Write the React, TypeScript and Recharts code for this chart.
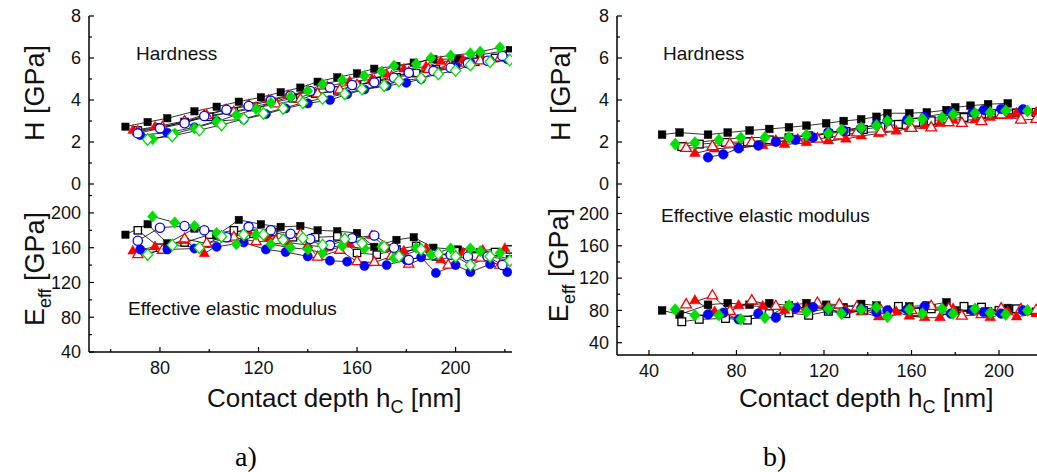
import React from 'react';
import { LineChart, Line, XAxis, YAxis } from 'recharts';

const SANS = '"Liberation Sans", Arial, Helvetica, sans-serif';
const SERIF = '"Liberation Serif", "Times New Roman", serif';

const BLACK = '#000000';
const BLUE = '#0000ff';
const RED = '#ff0000';
const GREEN = '#00e000';

// ---- panel a) : contact depth, hardness, effective modulus per sample ----
const aSqX = [66, 75, 83, 94, 103, 112, 121, 129, 137, 144, 152, 160, 167, 176, 183, 191, 201, 210, 222];
const aSqH = [2.73, 2.95, 3.13, 3.46, 3.68, 3.92, 4.13, 4.37, 4.59, 4.87, 5.08, 5.27, 5.49, 5.62, 5.78, 5.94, 5.95, 6.15, 6.38];
const aSqE = [175, 187, 165, 182, 174, 192, 187, 184, 185, 180, 179, 177, 161, 169, 172, 160, 158, 155, 147];

const aOsqX = [71, 80, 90, 100, 110, 118, 126, 134, 143, 152, 160, 168, 176, 184, 192, 200, 208, 216, 222];
const aOsqH = [2.55, 2.7, 2.95, 3.2, 3.45, 3.68, 3.88, 4.08, 4.3, 4.46, 4.7, 4.9, 5.08, 5.28, 5.46, 5.64, 5.82, 6.0, 6.12];
const aOsqE = [180, 160, 166, 175, 180, 176, 178, 172, 172, 173, 154, 152, 158, 162, 150, 156, 150, 155, 158];

const aCirX = [72, 83, 94, 103, 114, 123, 131, 140, 149, 156, 163, 172, 180, 186, 192, 200, 206, 214, 221];
const aCirH = [2.33, 2.44, 2.7, 3.0, 3.08, 3.33, 3.6, 3.84, 4.0, 4.27, 4.5, 4.67, 4.82, 5.0, 5.35, 5.59, 5.79, 5.87, 5.94];
const aCirE = [158, 158, 159, 161, 166, 158, 155, 150, 145, 144, 139, 140, 146, 149, 131, 140, 132, 141, 132];

const aOcirX = [71, 80, 90, 98, 107, 116, 125, 133, 141, 149, 158, 167, 175, 181, 191, 198, 205, 213, 219];
const aOcirH = [2.41, 2.65, 2.89, 3.24, 3.54, 3.71, 3.97, 4.2, 4.43, 4.59, 4.71, 4.84, 5.06, 5.3, 5.38, 5.54, 5.75, 5.87, 6.1];
const aOcirE = [168, 183, 185, 180, 172, 184, 180, 176, 170, 163, 171, 174, 160, 146, 152, 152, 150, 150, 140];

const aTriX = [69, 78, 90, 98, 107, 116, 124, 132, 140, 148, 157, 166, 172, 179, 188, 194, 203, 211, 220];
const aTriH = [2.55, 2.72, 3.0, 3.3, 3.55, 3.78, 4.0, 4.22, 4.45, 4.65, 4.87, 4.98, 5.22, 5.47, 5.59, 5.83, 5.9, 5.93, 6.05];
const aTriE = [156, 161, 168, 153, 170, 178, 171, 166, 163, 160, 164, 174, 160, 156, 159, 146, 154, 157, 159];

const aOtriX = [71, 81, 90, 99, 110, 119, 127, 137, 144, 153, 160, 167, 174, 181, 189, 197, 204, 210, 218];
const aOtriH = [2.49, 2.7, 2.97, 3.25, 3.42, 3.62, 3.81, 4.03, 4.29, 4.48, 4.71, 4.9, 5.1, 5.3, 5.45, 5.62, 5.75, 5.86, 6.0];
const aOtriE = [152, 157, 170, 165, 172, 167, 168, 175, 149, 157, 144, 143, 150, 141, 150, 140, 152, 148, 140];

const aDiaX = [77, 86, 94, 103, 111, 119, 125, 133, 140, 146, 154, 163, 170, 175, 184, 190, 198, 206, 210, 218];
const aDiaH = [2.14, 2.4, 2.65, 2.97, 3.29, 3.57, 3.87, 4.16, 4.43, 4.75, 4.95, 5.14, 5.35, 5.63, 5.72, 6.0, 6.12, 6.22, 6.3, 6.5];
const aDiaE = [196, 189, 185, 177, 164, 175, 164, 160, 158, 154, 162, 159, 161, 148, 160, 152, 159, 159, 156, 154];

const aOdiaX = [75, 85, 96, 105, 114, 122, 130, 138, 146, 155, 162, 171, 177, 186, 193, 200, 206, 214, 222];
const aOdiaH = [2.12, 2.29, 2.57, 2.81, 3.1, 3.36, 3.6, 3.87, 4.08, 4.29, 4.52, 4.68, 4.9, 5.03, 5.24, 5.4, 5.67, 5.82, 5.9];
const aOdiaE = [152, 163, 160, 173, 175, 175, 169, 171, 163, 170, 165, 161, 150, 158, 153, 150, 140, 150, 145];

// ---- panel b) ----
const bSqX = [46, 54, 67, 76, 86, 95, 104, 112, 121, 129, 137, 144, 149, 159, 167, 176, 180, 187, 195, 204];
const bSqH = [2.35, 2.45, 2.35, 2.45, 2.55, 2.62, 2.7, 2.78, 2.89, 3.0, 3.08, 3.2, 3.37, 3.37, 3.41, 3.52, 3.65, 3.73, 3.8, 3.84];
const bSqE = [80, 75, 87, 89, 87, 89, 86, 89, 87, 84, 88, 86, 77, 85, 86, 90, 80, 81, 79, 83];

const bOsqX = [55, 63, 75, 85, 95, 104, 113, 122, 130, 138, 146, 154, 162, 169, 176, 184, 192, 200, 208, 217];
const bOsqH = [1.78, 1.9, 1.98, 2.01, 2.1, 2.2, 2.3, 2.4, 2.5, 2.6, 2.73, 2.84, 2.94, 3.01, 3.1, 3.17, 3.33, 3.32, 3.38, 3.41];
const bOsqE = [66, 69, 70, 68, 76, 77, 74, 79, 76, 80, 74, 85, 78, 82, 80, 85, 84, 80, 82, 78];

const bCirX = [67, 74, 81, 90, 98, 107, 115, 122, 129, 137, 144, 149, 158, 166, 178, 188, 193, 201, 211];
const bCirH = [1.27, 1.41, 1.7, 1.83, 2.01, 2.1, 2.22, 2.46, 2.54, 2.65, 2.84, 3.0, 3.05, 3.2, 3.4, 3.41, 3.52, 3.57, 3.56];
const bCirE = [75, 77, 69, 76, 71, 83, 84, 81, 78, 82, 78, 80, 81, 85, 76, 80, 78, 76, 80];

const bTriX = [61, 70, 81, 92, 102, 112, 122, 130, 137, 145, 153, 159, 166, 173, 179, 189, 196, 204, 208, 217];
const bTriH = [1.46, 1.67, 1.75, 1.83, 1.88, 1.97, 2.05, 2.14, 2.29, 2.4, 2.52, 2.65, 2.78, 2.89, 3.05, 3.05, 3.17, 3.25, 3.37, 3.4];
const bTriE = [92, 78, 86, 85, 80, 82, 84, 80, 78, 72, 78, 73, 71, 71, 82, 79, 71, 78, 72, 76];

const bOtriX = [57, 69, 77, 87, 98, 108, 117, 127, 135, 146, 150, 160, 169, 177, 183, 192, 201, 210, 217];
const bOtriH = [1.7, 1.78, 1.9, 1.97, 2.02, 2.08, 2.14, 2.29, 2.44, 2.49, 2.65, 2.65, 2.68, 2.92, 2.89, 2.97, 3.29, 3.05, 3.08];
const bOtriE = [87, 98, 79, 92, 85, 82, 89, 87, 84, 80, 78, 80, 85, 82, 73, 75, 82, 81, 80];

const bDiaX = [52, 61, 72, 82, 93, 104, 112, 122, 128, 137, 144, 149, 159, 165, 174, 179, 189, 196, 203, 213];
const bDiaH = [1.9, 1.97, 2.1, 2.2, 2.22, 2.22, 2.33, 2.41, 2.57, 2.68, 2.78, 3.0, 3.01, 3.1, 3.17, 3.32, 3.37, 3.41, 3.49, 3.48];
const bDiaE = [81, 74, 74, 69, 71, 86, 78, 82, 76, 81, 84, 72, 81, 76, 82, 76, 82, 77, 75, 80];

// ---- axes ----
const X_TICKS_A = [60, 80, 100, 120, 140, 160, 180, 200, 220];
const X_TICKS_B = [40, 60, 80, 100, 120, 140, 160, 180, 200, 220];
const X_MAJOR = [40, 80, 120, 160, 200];
const H_TICKS = [0, 1, 2, 3, 4, 5, 6, 7, 8];
const H_MAJOR = [0, 2, 4, 6, 8];
const E_TICKS = [40, 60, 80, 100, 120, 140, 160, 180, 200, 220];
const E_MAJOR = [40, 80, 120, 160, 200];

type Shape = 'square' | 'circle' | 'triangle' | 'diamond';
interface Series {
  id: string;
  x: number[];
  h: number[];
  e: number[];
  shape: Shape;
  color: string;
  open: boolean;
}

const seriesA: Series[] = [
  { id: 'sq', x: aSqX, h: aSqH, e: aSqE, shape: 'square', color: BLACK, open: false },
  { id: 'osq', x: aOsqX, h: aOsqH, e: aOsqE, shape: 'square', color: BLACK, open: true },
  { id: 'tri', x: aTriX, h: aTriH, e: aTriE, shape: 'triangle', color: RED, open: false },
  { id: 'otri', x: aOtriX, h: aOtriH, e: aOtriE, shape: 'triangle', color: RED, open: true },
  { id: 'cir', x: aCirX, h: aCirH, e: aCirE, shape: 'circle', color: BLUE, open: false },
  { id: 'ocir', x: aOcirX, h: aOcirH, e: aOcirE, shape: 'circle', color: BLUE, open: true },
  { id: 'dia', x: aDiaX, h: aDiaH, e: aDiaE, shape: 'diamond', color: GREEN, open: false },
  { id: 'odia', x: aOdiaX, h: aOdiaH, e: aOdiaE, shape: 'diamond', color: GREEN, open: true },
];

const seriesB: Series[] = [
  { id: 'sq', x: bSqX, h: bSqH, e: bSqE, shape: 'square', color: BLACK, open: false },
  { id: 'osq', x: bOsqX, h: bOsqH, e: bOsqE, shape: 'square', color: BLACK, open: true },
  { id: 'tri', x: bTriX, h: bTriH, e: bTriE, shape: 'triangle', color: RED, open: false },
  { id: 'otri', x: bOtriX, h: bOtriH, e: bOtriE, shape: 'triangle', color: RED, open: true },
  { id: 'cir', x: bCirX, h: bCirH, e: bCirE, shape: 'circle', color: BLUE, open: false },
  { id: 'dia', x: bDiaX, h: bDiaH, e: bDiaE, shape: 'diamond', color: GREEN, open: false },
];

const toPoints = (xs: number[], ys: number[]) => xs.map((x, i) => ({ x, y: ys[i] }));

const markerFor = (shape: Shape, color: string, open: boolean, scale: number) => (props: any) => {
  const { cx, cy, index } = props;
  if (cx == null || cy == null || isNaN(cx) || isNaN(cy)) return <g key={index} />;
  const fill = open ? '#ffffff' : color;
  const sw = open ? 1.3 : 0.5;
  if (shape === 'square') {
    const h = 3.5 * scale;
    return <rect key={index} x={cx - h} y={cy - h} width={2 * h} height={2 * h} fill={fill} stroke={color} strokeWidth={sw} />;
  }
  if (shape === 'circle') {
    return <circle key={index} cx={cx} cy={cy} r={4.4 * scale} fill={fill} stroke={color} strokeWidth={sw} />;
  }
  if (shape === 'triangle') {
    const r = 5.6 * scale;
    const pts = `${cx},${cy - r} ${cx + r * 0.87},${cy + r * 0.5} ${cx - r * 0.87},${cy + r * 0.5}`;
    return <polygon key={index} points={pts} fill={fill} stroke={color} strokeWidth={sw} />;
  }
  const w = 4.8 * scale;
  const hh = 5.5 * scale;
  const pts = `${cx},${cy - hh} ${cx + w},${cy} ${cx},${cy + hh} ${cx - w},${cy}`;
  return <polygon key={index} points={pts} fill={fill} stroke={color} strokeWidth={sw} />;
};

// tick renderers: ticks point into the plot, labels only on major ticks
const leftTick = (majors: number[]) => (props: any) => {
  const { x, y, payload } = props;
  const major = majors.includes(payload.value);
  return (
    <g>
      <line x1={x} x2={x + (major ? 5 : 3)} y1={y} y2={y} stroke="#000" strokeWidth={1.2} />
      {major && (
        <text x={x - 8} y={y + 6.3} textAnchor="end" fontSize={18} fontFamily={SANS} fill="#111">
          {payload.value}
        </text>
      )}
    </g>
  );
};

const bottomTick = (majors: number[], labels: boolean) => (props: any) => {
  const { x, y, payload } = props;
  const major = majors.includes(payload.value);
  return (
    <g>
      <line x1={x} x2={x} y1={y} y2={y - (major ? 5 : 3)} stroke="#000" strokeWidth={1.2} />
      {labels && major && (
        <text x={x} y={y + 22} textAnchor="middle" fontSize={18} fontFamily={SANS} fill="#111">
          {payload.value}
        </text>
      )}
    </g>
  );
};

const topTick = (majors: number[]) => (props: any) => {
  const { x, y, payload } = props;
  const major = majors.includes(payload.value);
  return <line x1={x} x2={x} y1={y} y2={y + (major ? 5 : 3)} stroke="#000" strokeWidth={1.2} />;
};

interface PanelProps {
  series: Series[];
  left: number;
  width: number;
  yAxisWidth: number;
  rightMargin: number;
  xDomain: [number, number];
  xTicks: number[];
  eDomain: [number, number];
  lowerBottom: number;
  scale: number;
}

const Panel: React.FC<PanelProps> = ({ series, left, width, yAxisWidth, rightMargin, xDomain, xTicks, eDomain, lowerBottom, scale }) => {
  const upperHeight = 200;
  const lowerHeight = 400;
  return (
    <div style={{ position: 'absolute', left, top: 0 }}>
      <div style={{ position: 'absolute', left: 0, top: 0 }}>
        <LineChart width={width} height={upperHeight} margin={{ top: 16, right: rightMargin, bottom: upperHeight - 184, left: 0 }}>
          <XAxis xAxisId="top" orientation="top" type="number" domain={xDomain} allowDataOverflow ticks={xTicks} interval={0}
            height={0} tickSize={0} tickMargin={0} tickLine={false} tick={topTick(X_MAJOR)} axisLine={{ stroke: '#000', strokeWidth: 1.5 }} />
          <XAxis dataKey="x" type="number" domain={xDomain} allowDataOverflow ticks={xTicks} interval={0}
            height={0} tickSize={0} tickMargin={0} tickLine={false} tick={bottomTick(X_MAJOR, false)} axisLine={{ stroke: '#000', strokeWidth: 1.5 }} />
          <YAxis type="number" domain={[0, 8]} allowDataOverflow ticks={H_TICKS} interval={0} width={yAxisWidth}
            tickSize={0} tickMargin={0} tickLine={false} tick={leftTick(H_MAJOR)} axisLine={{ stroke: '#000', strokeWidth: 1.5 }} />
          {series.map(s => (
            <Line key={`h-${s.id}`} data={toPoints(s.x, s.h)} dataKey="y" type="linear" stroke="#000" strokeWidth={0.8}
              dot={markerFor(s.shape, s.color, s.open, scale)} activeDot={false} isAnimationActive={false} />
          ))}
        </LineChart>
      </div>
      <div style={{ position: 'absolute', left: 0, top: 0 }}>
        <LineChart width={width} height={lowerHeight} margin={{ top: 184, right: rightMargin, bottom: lowerHeight - 40 - lowerBottom, left: 0 }}>
          <XAxis xAxisId="top" orientation="top" type="number" domain={xDomain} allowDataOverflow ticks={xTicks} interval={0}
            height={0} tickSize={0} tickMargin={0} tickLine={false} tick={false} axisLine={{ stroke: '#000', strokeWidth: 1.5 }} />
          <XAxis dataKey="x" type="number" domain={xDomain} allowDataOverflow ticks={xTicks} interval={0}
            height={40} tickSize={0} tickMargin={0} tickLine={false} tick={bottomTick(X_MAJOR, true)} axisLine={{ stroke: '#000', strokeWidth: 1.5 }} />
          <YAxis type="number" domain={eDomain} allowDataOverflow ticks={E_TICKS} interval={0} width={yAxisWidth}
            tickSize={0} tickMargin={0} tickLine={false} tick={leftTick(E_MAJOR)} axisLine={{ stroke: '#000', strokeWidth: 1.5 }} />
          {series.map(s => (
            <Line key={`e-${s.id}`} data={toPoints(s.x, s.e)} dataKey="y" type="linear" stroke="#000" strokeWidth={0.8}
              dot={markerFor(s.shape, s.color, s.open, scale)} activeDot={false} isAnimationActive={false} />
          ))}
        </LineChart>
      </div>
    </div>
  );
};

const Labels: React.FC = () => (
  <svg width={1037} height={472} style={{ position: 'absolute', left: 0, top: 0, pointerEvents: 'none' }}>
    <g fontFamily={SANS} fill="#111">
      <text x={136} y={60} fontSize={19}>Hardness</text>
      <text x={128} y={315} fontSize={19}>Effective elastic modulus</text>
      <text x={663} y={60} fontSize={19}>Hardness</text>
      <text x={661} y={222} fontSize={19}>Effective elastic modulus</text>

      <text x={44} y={93} fontSize={27} textAnchor="middle" transform="rotate(-90 44 93)">H [GPa]</text>
      <text x={44} y={269} fontSize={27} textAnchor="middle" transform="rotate(-90 44 269)">
        E<tspan fontSize={18} dy={7}>eff</tspan><tspan dy={-7}> [GPa]</tspan>
      </text>
      <text x={570} y={93} fontSize={27} textAnchor="middle" transform="rotate(-90 570 93)">H [GPa]</text>
      <text x={568} y={265} fontSize={27} textAnchor="middle" transform="rotate(-90 568 265)">
        E<tspan fontSize={18} dy={7}>eff</tspan><tspan dy={-7}> [GPa]</tspan>
      </text>

      <text x={207} y={407} fontSize={26}>
        Contact depth h<tspan fontSize={18} dy={6}>C</tspan><tspan dy={-6}> [nm]</tspan>
      </text>
      <text x={739} y={407} fontSize={26}>
        Contact depth h<tspan fontSize={18} dy={6}>C</tspan><tspan dy={-6}> [nm]</tspan>
      </text>
    </g>
    <text x={235} y={466} fontSize={28} fontFamily={SERIF} fill="#000">a)</text>
    <text x={763} y={466} fontSize={28} fontFamily={SERIF} fill="#000">b)</text>
  </svg>
);

export default function App() {
  return (
    <div style={{ position: 'absolute', left: 0, top: 0, width: 1037, height: 472, overflow: 'hidden', background: '#fff' }}>
      <Panel series={seriesA} left={0} width={540} yAxisWidth={89} rightMargin={28}
        xDomain={[51.2, 222.9]} xTicks={X_TICKS_A} eDomain={[40, 233.3]} lowerBottom={352} scale={1.05} />
      <Panel series={seriesB} left={530} width={530} yAxisWidth={87} rightMargin={10}
        xDomain={[25.4, 223.3]} xTicks={X_TICKS_B} eDomain={[24.8, 236.5]} lowerBottom={355} scale={1.1} />
      <Labels />
    </div>
  );
}
